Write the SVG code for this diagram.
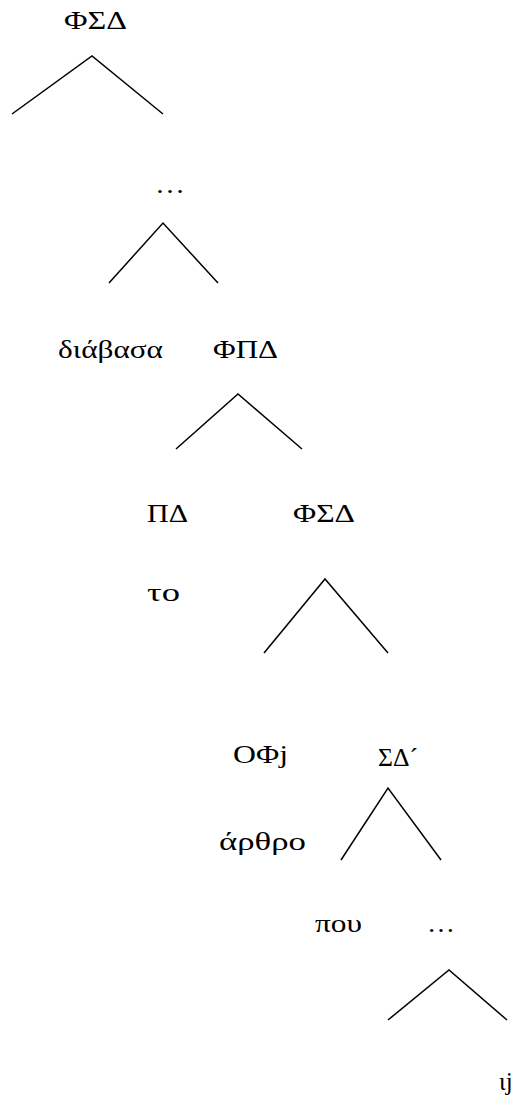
<svg xmlns="http://www.w3.org/2000/svg" width="513" height="1106" viewBox="0 0 513 1106">
<style>
  .t { font-family: "Liberation Serif", "Times New Roman", serif; font-size: 25px; fill: #000; }
  .e { fill: none; stroke: #000; stroke-width: 1.5; stroke-linejoin: miter; }
</style>
<rect width="513" height="1106" fill="#fff"/>
<g id="connectors">
  <polyline class="e" points="12,114 92,56 163,114"/>
  <polyline class="e" points="109,283 163,223 218,283"/>
  <polyline class="e" points="176,449 238,394 302,449"/>
  <polyline class="e" points="264,653 325,579 388,653"/>
  <polyline class="e" points="341,860 388,788 441,860"/>
  <polyline class="e" points="388,1020 449,970 507,1020"/>
</g>
<g id="n1"><text class="t" x="64" y="29" textLength="63" lengthAdjust="spacingAndGlyphs">ΦΣΔ</text></g>
<g id="n2"><text class="t" x="155" y="193" textLength="30" lengthAdjust="spacingAndGlyphs">…</text></g>
<g id="n3"><text class="t" x="58" y="358" textLength="105" lengthAdjust="spacingAndGlyphs">διάβασα</text></g>
<g id="n4"><text class="t" x="213" y="358" textLength="65" lengthAdjust="spacingAndGlyphs">ΦΠΔ</text></g>
<g id="n5"><text class="t" x="147" y="522" textLength="41" lengthAdjust="spacingAndGlyphs">ΠΔ</text></g>
<g id="n6"><text class="t" x="293" y="522" textLength="62" lengthAdjust="spacingAndGlyphs">ΦΣΔ</text></g>
<g id="n7"><text class="t" x="147" y="601" textLength="33" lengthAdjust="spacingAndGlyphs">το</text></g>
<g id="n8"><text class="t" x="233" y="763" textLength="55" lengthAdjust="spacingAndGlyphs">OΦj</text></g>
<g id="n9"><text class="t" x="378" y="766" textLength="40" lengthAdjust="spacingAndGlyphs">ΣΔ´</text></g>
<g id="n10"><text class="t" x="219" y="850" textLength="87" lengthAdjust="spacingAndGlyphs">άρθρο</text></g>
<g id="n11"><text class="t" x="315" y="932" textLength="47" lengthAdjust="spacingAndGlyphs">που</text></g>
<g id="n12"><text class="t" x="427" y="932" textLength="28" lengthAdjust="spacingAndGlyphs">…</text></g>
<g id="n13"><text class="t" x="499" y="1090">ιj</text></g>
</svg>
